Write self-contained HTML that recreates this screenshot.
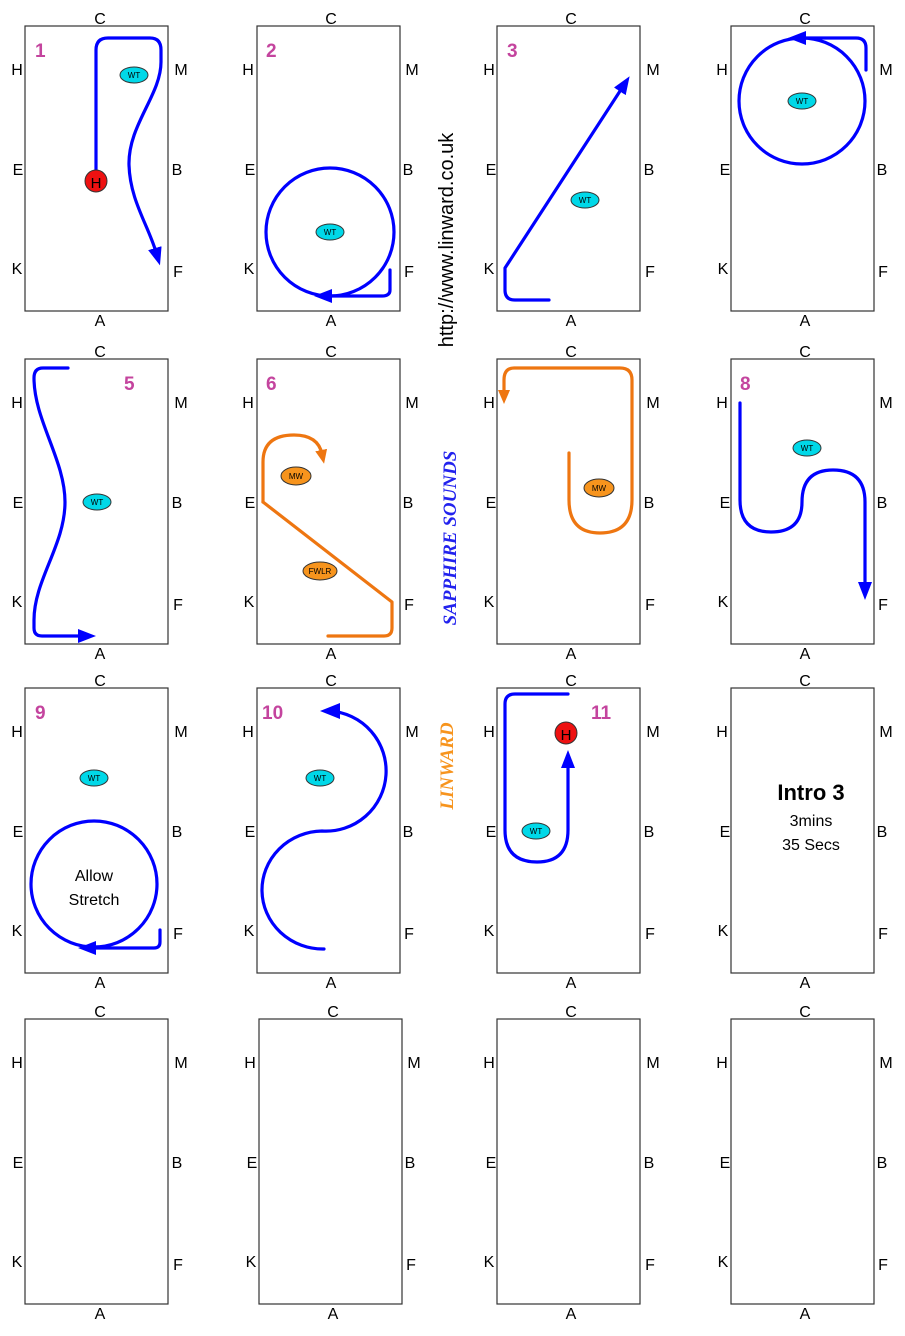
<!DOCTYPE html>
<html><head><meta charset="utf-8"><style>
html,body{margin:0;padding:0;background:#fff}
svg{display:block}
text{font-family:"Liberation Sans",sans-serif}
.l{font-size:16px;fill:#000;text-anchor:middle}
.n{font-size:19px;font-weight:bold;fill:#c4449e}
.b{fill:none;stroke:#0000ff;stroke-width:3.2;stroke-linecap:round;stroke-linejoin:round}
.o{fill:none;stroke:#ee7611;stroke-width:3.2;stroke-linecap:round;stroke-linejoin:round}
.r{fill:#fff;stroke:#333;stroke-width:1.2}
.wt{fill:#00d8e8;stroke:#333;stroke-width:1}
.mw{fill:#f7941d;stroke:#333;stroke-width:1}
.s{font-size:8px;text-anchor:middle;fill:#000}
</style></head><body>
<svg width="905" height="1336" viewBox="0 0 905 1336" xmlns="http://www.w3.org/2000/svg">
<defs>
<marker id="ab" markerWidth="18" markerHeight="14" refX="4" refY="7" orient="auto" markerUnits="userSpaceOnUse" viewBox="0 0 18 14"><path d="M0,0 L18,7 L0,14 Z" fill="#0000ff"/></marker>
<marker id="ao" markerWidth="14" markerHeight="12" refX="4" refY="6" orient="auto" markerUnits="userSpaceOnUse" viewBox="0 0 14 12"><path d="M0,0 L14,6 L0,12 Z" fill="#ee7611"/></marker>
</defs>
<g id="arenas">
<rect class="r" x="25" y="26" width="143" height="285"/><rect class="r" x="257" y="26" width="143" height="285"/><rect class="r" x="497" y="26" width="143" height="285"/><rect class="r" x="731" y="26" width="143" height="285"/>
<rect class="r" x="25" y="359" width="143" height="285"/><rect class="r" x="257" y="359" width="143" height="285"/><rect class="r" x="497" y="359" width="143" height="285"/><rect class="r" x="731" y="359" width="143" height="285"/>
<rect class="r" x="25" y="688" width="143" height="285"/><rect class="r" x="257" y="688" width="143" height="285"/><rect class="r" x="497" y="688" width="143" height="285"/><rect class="r" x="731" y="688" width="143" height="285"/>
<rect class="r" x="25" y="1019" width="143" height="285"/><rect class="r" x="259" y="1019" width="143" height="285"/><rect class="r" x="497" y="1019" width="143" height="285"/><rect class="r" x="731" y="1019" width="143" height="285"/>
</g>
<g class="letters">
<text class="l" x="100" y="24">C</text><text class="l" x="100" y="326">A</text><text class="l" x="17" y="75">H</text><text class="l" x="18" y="175">E</text><text class="l" x="17" y="274">K</text><text class="l" x="181" y="75">M</text><text class="l" x="177" y="175">B</text><text class="l" x="178" y="277">F</text>
<text class="l" x="331" y="24">C</text><text class="l" x="331" y="326">A</text><text class="l" x="248" y="75">H</text><text class="l" x="250" y="175">E</text><text class="l" x="249" y="274">K</text><text class="l" x="412" y="75">M</text><text class="l" x="408" y="175">B</text><text class="l" x="409" y="277">F</text>
<text class="l" x="571" y="24">C</text><text class="l" x="571" y="326">A</text><text class="l" x="489" y="75">H</text><text class="l" x="491" y="175">E</text><text class="l" x="489" y="274">K</text><text class="l" x="653" y="75">M</text><text class="l" x="649" y="175">B</text><text class="l" x="650" y="277">F</text>
<text class="l" x="805" y="24">C</text><text class="l" x="805" y="326">A</text><text class="l" x="722" y="75">H</text><text class="l" x="725" y="175">E</text><text class="l" x="723" y="274">K</text><text class="l" x="886" y="75">M</text><text class="l" x="882" y="175">B</text><text class="l" x="883" y="277">F</text>
<g transform="translate(0,333)">
<text class="l" x="100" y="24">C</text><text class="l" x="100" y="326">A</text><text class="l" x="17" y="75">H</text><text class="l" x="18" y="175">E</text><text class="l" x="17" y="274">K</text><text class="l" x="181" y="75">M</text><text class="l" x="177" y="175">B</text><text class="l" x="178" y="277">F</text>
<text class="l" x="331" y="24">C</text><text class="l" x="331" y="326">A</text><text class="l" x="248" y="75">H</text><text class="l" x="250" y="175">E</text><text class="l" x="249" y="274">K</text><text class="l" x="412" y="75">M</text><text class="l" x="408" y="175">B</text><text class="l" x="409" y="277">F</text>
<text class="l" x="571" y="24">C</text><text class="l" x="571" y="326">A</text><text class="l" x="489" y="75">H</text><text class="l" x="491" y="175">E</text><text class="l" x="489" y="274">K</text><text class="l" x="653" y="75">M</text><text class="l" x="649" y="175">B</text><text class="l" x="650" y="277">F</text>
<text class="l" x="805" y="24">C</text><text class="l" x="805" y="326">A</text><text class="l" x="722" y="75">H</text><text class="l" x="725" y="175">E</text><text class="l" x="723" y="274">K</text><text class="l" x="886" y="75">M</text><text class="l" x="882" y="175">B</text><text class="l" x="883" y="277">F</text>
</g>
<g transform="translate(0,662)">
<text class="l" x="100" y="24">C</text><text class="l" x="100" y="326">A</text><text class="l" x="17" y="75">H</text><text class="l" x="18" y="175">E</text><text class="l" x="17" y="274">K</text><text class="l" x="181" y="75">M</text><text class="l" x="177" y="175">B</text><text class="l" x="178" y="277">F</text>
<text class="l" x="331" y="24">C</text><text class="l" x="331" y="326">A</text><text class="l" x="248" y="75">H</text><text class="l" x="250" y="175">E</text><text class="l" x="249" y="274">K</text><text class="l" x="412" y="75">M</text><text class="l" x="408" y="175">B</text><text class="l" x="409" y="277">F</text>
<text class="l" x="571" y="24">C</text><text class="l" x="571" y="326">A</text><text class="l" x="489" y="75">H</text><text class="l" x="491" y="175">E</text><text class="l" x="489" y="274">K</text><text class="l" x="653" y="75">M</text><text class="l" x="649" y="175">B</text><text class="l" x="650" y="277">F</text>
<text class="l" x="805" y="24">C</text><text class="l" x="805" y="326">A</text><text class="l" x="722" y="75">H</text><text class="l" x="725" y="175">E</text><text class="l" x="723" y="274">K</text><text class="l" x="886" y="75">M</text><text class="l" x="882" y="175">B</text><text class="l" x="883" y="277">F</text>
</g>
<g transform="translate(0,993)">
<text class="l" x="100" y="24">C</text><text class="l" x="100" y="326">A</text><text class="l" x="17" y="75">H</text><text class="l" x="18" y="175">E</text><text class="l" x="17" y="274">K</text><text class="l" x="181" y="75">M</text><text class="l" x="177" y="175">B</text><text class="l" x="178" y="277">F</text>
<text class="l" x="333" y="24">C</text><text class="l" x="333" y="326">A</text><text class="l" x="250" y="75">H</text><text class="l" x="252" y="175">E</text><text class="l" x="251" y="274">K</text><text class="l" x="414" y="75">M</text><text class="l" x="410" y="175">B</text><text class="l" x="411" y="277">F</text>
<text class="l" x="571" y="24">C</text><text class="l" x="571" y="326">A</text><text class="l" x="489" y="75">H</text><text class="l" x="491" y="175">E</text><text class="l" x="489" y="274">K</text><text class="l" x="653" y="75">M</text><text class="l" x="649" y="175">B</text><text class="l" x="650" y="277">F</text>
<text class="l" x="805" y="24">C</text><text class="l" x="805" y="326">A</text><text class="l" x="722" y="75">H</text><text class="l" x="725" y="175">E</text><text class="l" x="723" y="274">K</text><text class="l" x="886" y="75">M</text><text class="l" x="882" y="175">B</text><text class="l" x="883" y="277">F</text>
</g>
</g>
<text class="n" x="35" y="57">1</text><text class="n" x="266" y="57">2</text><text class="n" x="507" y="57">3</text>
<text class="n" x="124" y="390">5</text><text class="n" x="266" y="390">6</text><text class="n" x="740" y="390">8</text>
<text class="n" x="35" y="719">9</text><text class="n" x="262" y="719">10</text><text class="n" x="591" y="719">11</text>

<path class="b" marker-end="url(#ab)" d="M96,170 V50 Q96,38 108,38 H150 Q161,38 161,50 V62 C161,95 128,125 129,165 C130,200 148,225 156,252"/>
<ellipse class="wt" cx="134" cy="75" rx="14" ry="8"/><text class="s" x="134" y="78">WT</text>
<circle cx="96" cy="181" r="11" fill="#ee1111" stroke="#333"/><text x="96" y="188" font-size="15" text-anchor="middle">H</text>

<circle class="b" cx="330" cy="232" r="64"/>
<path class="b" marker-end="url(#ab)" d="M390,270 V290 Q390,296 382,296 H328"/>
<ellipse class="wt" cx="330" cy="232" rx="14" ry="8"/><text class="s" x="330" y="235">WT</text>

<path class="b" marker-end="url(#ab)" d="M549,300 H515 Q505,300 505,290 V268 L622,88"/>
<ellipse class="wt" cx="585" cy="200" rx="14" ry="8"/><text class="s" x="585" y="203">WT</text>

<circle class="b" cx="802" cy="101" r="63"/>
<path class="b" marker-end="url(#ab)" d="M866,70 V48 Q866,38 856,38 H802"/>
<ellipse class="wt" cx="802" cy="101" rx="14" ry="8"/><text class="s" x="802" y="104">WT</text>

<path class="b" marker-end="url(#ab)" d="M68,368 H43 Q34,368 34,378 C34,420 65,460 65,502 C65,545 34,580 34,620 V628 Q34,636 42,636 H82"/>
<ellipse class="wt" cx="97" cy="502" rx="14" ry="8"/><text class="s" x="97" y="505">WT</text>

<path class="o" marker-end="url(#ao)" d="M263,502 V462 Q263,435 294,435 Q318,435 322,454"/>
<path class="o" d="M263,502 L392,602 V628 Q392,636 384,636 H328"/>
<ellipse class="mw" cx="296" cy="476" rx="15" ry="9"/><text class="s" x="296" y="479">MW</text>
<ellipse class="mw" cx="320" cy="571" rx="17" ry="9"/><text class="s" x="320" y="574">FWLR</text>

<path class="o" marker-end="url(#ao)" d="M569,453 V500 Q569,533 600,533 Q632,533 632,500 V380 Q632,368 620,368 H514 Q504,368 504,380 V394"/>
<ellipse class="mw" cx="599" cy="488" rx="15" ry="9"/><text class="s" x="599" y="491">MW</text>

<path class="b" marker-end="url(#ab)" d="M740,403 V500 Q740,532 771,532 Q802,532 802,502 Q802,470 833,470 Q865,470 865,502 V586"/>
<ellipse class="wt" cx="807" cy="448" rx="14" ry="8"/><text class="s" x="807" y="451">WT</text>

<circle class="b" cx="94" cy="884" r="63"/>
<path class="b" marker-end="url(#ab)" d="M160,930 V942 Q160,948 154,948 H92"/>
<ellipse class="wt" cx="94" cy="778" rx="14" ry="8"/><text class="s" x="94" y="781">WT</text>
<text x="94" y="881" font-size="16" text-anchor="middle">Allow</text>
<text x="94" y="905" font-size="16" text-anchor="middle">Stretch</text>

<path class="b" d="M330,711 A60,60 0 0 1 322,831 A61,59 0 0 0 324,949"/>
<path d="M320,711 L340,703 L340,719 Z" fill="#0000ff"/>
<ellipse class="wt" cx="320" cy="778" rx="14" ry="8"/><text class="s" x="320" y="781">WT</text>

<path class="b" marker-end="url(#ab)" d="M568,694 H515 Q505,694 505,704 V830 Q505,862 537,862 Q568,862 568,830 V764"/>
<circle cx="566" cy="733" r="11" fill="#ee1111" stroke="#333"/><text x="566" y="740" font-size="15" text-anchor="middle">H</text>
<ellipse class="wt" cx="536" cy="831" rx="14" ry="8"/><text class="s" x="536" y="834">WT</text>

<text x="811" y="800" font-size="22" font-weight="bold" text-anchor="middle">Intro 3</text>
<text x="811" y="826" font-size="16" text-anchor="middle">3mins</text>
<text x="811" y="850" font-size="16" text-anchor="middle">35 Secs</text>

<text transform="translate(453,240) rotate(-90)" font-size="20" text-anchor="middle">http://www.linward.co.uk</text>
<text transform="translate(456,538) rotate(-90)" font-size="19" font-weight="bold" font-style="italic" fill="#2222ee" text-anchor="middle" style="font-family:'Liberation Serif',serif">SAPPHIRE SOUNDS</text>
<text transform="translate(453,766) rotate(-90)" font-size="19" font-weight="bold" font-style="italic" fill="#f7941d" text-anchor="middle" style="font-family:'Liberation Serif',serif">LINWARD</text>
</svg>
</body></html>
